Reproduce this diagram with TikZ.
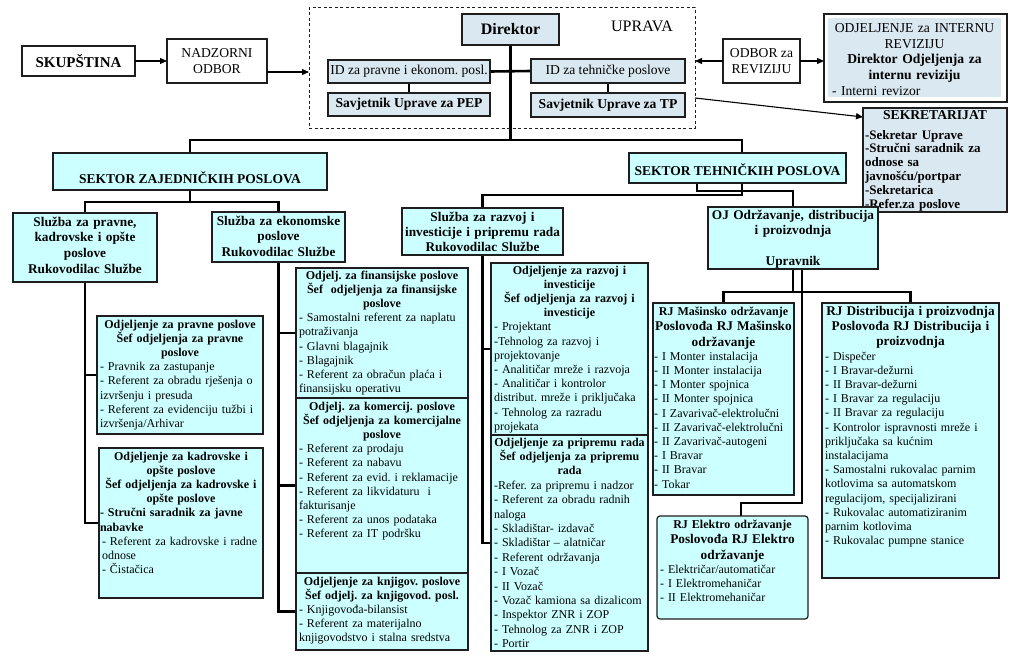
\documentclass[tikz,border=0pt]{standalone}
\usepackage{fontspec}
\setmainfont{Liberation Serif}
\usetikzlibrary{arrows.meta,backgrounds,calc}
\setlength{\parindent}{0pt}
\frenchspacing
\definecolor{cyanb}{RGB}{204,255,255}
\definecolor{lightb}{RGB}{218,232,241}
\definecolor{bline}{RGB}{30,30,30}

\newcommand\orgrect[6]{%
  \pgfmathsetmacro\orgW{#4-#2}\pgfmathsetmacro\orgH{#5-#3}%
  \node[#6, anchor=north west, minimum width=\orgW pt, minimum height=\orgH pt, inner sep=0pt, outer sep=0pt] (#1) at (#2,#3) {};}
\newcommand\orgbox[8]{%
  \orgrect{#1}{#2}{#3}{#4}{#5}{#6}%
  \pgfmathsetmacro\orgT{#4-#2-6}%
  \node[anchor=north, inner xsep=0pt, inner ysep=3.5pt, text width=\orgT pt, align=left, #7] (#1t) at (#1.north) {#8};}
\newcommand\orgsimple[7]{%
  \pgfmathsetmacro\orgW{#4-#2}\pgfmathsetmacro\orgH{#5-#3}%
  \node[#6, anchor=north west, minimum width=\orgW pt, minimum height=\orgH pt, inner sep=0pt, outer sep=0pt, align=center] (#1) at (#2,#3) {#7};}
\newcommand\orghd[1]{{\centering\bfseries #1\par}}

\tikzset{
  cbox/.style={draw=bline, fill=cyanb, line width=1.2pt},
  lbox/.style={draw=bline, fill=lightb, line width=1.2pt},
  wbox/.style={draw=bline, fill=white, line width=1.2pt},
  conn/.style={line width=2.6pt, line cap=rect},
  arr/.style={line width=1.1pt, -{Triangle[length=7pt,width=6pt]}},
  itm/.style={font=\fontsize{12}{14.2}\selectfont},
  hdr/.style={align=center, font=\fontsize{13.3}{15.7}\selectfont\bfseries},
  topf/.style={font=\fontsize{13.6}{15.5}\selectfont},
  topb/.style={font=\fontsize{13.6}{15.5}\selectfont\bfseries},
}

\begin{document}
\begin{tikzpicture}[x=1pt,y=-1pt]
\path[use as bounding box] (0,0) rectangle (1024,669);

% top row
\orgsimple{skup}{22}{46}{135}{76}{wbox, font=\fontsize{15}{17}\selectfont\bfseries}{SKUPŠTINA}
\orgsimple{nadz}{167}{39}{267}{83}{wbox, topf}{NADZORNI\\ODBOR}
\orgrect{upr}{309}{8}{695}{128}{draw=bline, line width=1pt, dash pattern=on 3pt off 2.5pt}
\node[font=\fontsize{16}{18}\selectfont] (uprl) at (642,26) {UPRAVA};
\orgsimple{dir}{462}{14}{559}{45}{lbox, font=\fontsize{16}{18}\selectfont\bfseries}{Direktor}
\orgsimple{idpep}{328}{60}{490}{83}{lbox, topf}{ID za pravne i ekonom. posl.}
\orgsimple{savpep}{328}{93}{490}{116}{lbox, topb}{Savjetnik Uprave za PEP}
\orgsimple{idtp}{531}{59}{685}{83}{lbox, topf}{ID za tehničke poslove}
\orgsimple{savtp}{531}{93}{685}{117}{lbox, topb}{Savjetnik Uprave za TP}
\orgsimple{odbor}{723}{39}{800}{83}{wbox, topf}{ODBOR za\\REVIZIJU}
\orgrect{intr}{824}{14}{1007}{102}{wbox}
\fill[lightb] (828,18) rectangle (1001,97);
\node[anchor=north, text width=171pt, inner sep=0pt, align=left, font=\fontsize{13.6}{15.8}\selectfont] (intrt) at (914.5,23) {{\centering ODJELJENJE za INTERNU\\ REVIZIJU\\ \textbf{Direktor Odjeljenja za}\\ \textbf{internu reviziju}\par}\hspace*{3pt}- Interni revizor};
\orgbox{sekr}{863}{108}{1007}{212}{lbox}{inner xsep=1pt, inner ysep=2pt, text width=140pt, font=\fontsize{13}{13.8}\selectfont\bfseries}{{\centering\fontsize{13.6}{16}\selectfont SEKRETARIJAT\par}\vspace{6pt}-Sekretar Uprave\\ -Stručni saradnik za\\ odnose sa\\ javnošću/portpar\\ -Sekretarica\\ -Refer.za poslove}

% sectors
\orgrect{szp}{53}{153}{327}{190}{cbox}
\node[font=\fontsize{13.5}{16}\selectfont\bfseries] (szpt) at ([yshift=-6pt]szp.center) {SEKTOR ZAJEDNIČKIH POSLOVA};
\orgrect{stp}{629}{153}{846}{183}{cbox}
\node[font=\fontsize{13.5}{16}\selectfont\bfseries] (stpt) at ([yshift=-2pt]stp.center) {SEKTOR TEHNIČKIH POSLOVA};

% sluzbe
\orgbox{slpr}{13}{213}{157}{282}{cbox}{hdr}{Služba za pravne,\\ kadrovske i opšte\\ poslove\\ Rukovodilac Službe}
\orgbox{slek}{212}{212}{345}{262}{cbox}{hdr}{Služba za ekonomske\\ poslove\\ Rukovodilac Službe}
\orgbox{slraz}{402}{208}{563}{255}{cbox}{hdr, font=\fontsize{13.3}{15}\selectfont\bfseries}{Služba za razvoj i\\ investicije i pripremu rada\\ Rukovodilac Službe}
\orgbox{oj}{708}{207}{878}{269}{cbox}{hdr, inner ysep=2.5pt, font=\fontsize{13.3}{15.5}\selectfont\bfseries}{OJ Održavanje, distribucija\\ i proizvodnja\\[15.5pt]Upravnik}

% odjeljenja - zajednicki
\orgbox{odpr}{97}{316}{263}{434}{cbox}{itm}{\orghd{Odjeljenje za pravne poslove\\ Šef odjeljenja za pravne\\ poslove}- Pravnik za zastupanje\\ - Referent za obradu rješenja o\\ izvršenju i presuda\\ - Referent za evidenciju tužbi i\\ izvršenja/Arhivar}
\orgbox{odkad}{99}{448}{263}{598}{cbox}{itm, text width=162pt}{\orghd{Odjeljenje za kadrovske i\\ opšte poslove\\ Šef odjeljenja za kadrovske i\\ opšte poslove}{\bfseries - Stručni saradnik za javne\\ nabavke\par}\hspace*{2pt}- Referent za kadrovske i radne\\ \hspace*{2pt}odnose\\ \hspace*{2pt}- Čistačica}
\orgbox{odfin}{296}{268}{468}{398}{cbox}{itm, inner ysep=2.5pt}{\orghd{Odjelj. za finansijske poslove\\ Šef~ odjeljenja za finansijske\\ poslove}- Samostalni referent za naplatu\\ potraživanja\\ - Glavni blagajnik\\ - Blagajnik\\ - Referent za obračun plaća i\\ finansijsku operativu}
\orgbox{odkom}{296}{398}{468}{573}{cbox}{itm}{\orghd{Odjelj. za komercij. poslove\\ Šef odjeljenja za komercijalne\\ poslove}- Referent za prodaju\\ - Referent za nabavu\\ - Referent za evid. i reklamacije\\ - Referent za likvidaturu~ i\\ fakturisanje\\ - Referent za unos podataka\\ - Referent za IT podršku}
\orgbox{odknj}{296}{573}{468}{650}{cbox}{itm}{\orghd{Odjeljenje za knjigov. poslove\\ Šef odjelj. za knjigovod. posl.}- Knjigovođa-bilansist\\ - Referent za materijalno\\ knjigovodstvo i stalna sredstva}

% odjeljenja - tehnicki
\orgbox{odraz}{491}{263}{648}{435}{cbox}{itm, inner ysep=2.5pt}{\orghd{Odjeljenje za razvoj i\\ investicije\\ Šef odjeljenja za razvoj i\\ investicije}- Projektant\\ -Tehnolog za razvoj i\\ projektovanje\\ - Analitičar mreže i razvoja\\ - Analitičar i kontrolor\\ distribut. mreže i priključaka\\ - Tehnolog za razradu\\ projekata}
\orgbox{odpri}{491}{435}{648}{651}{cbox}{itm, inner ysep=2.5pt, font=\fontsize{12}{14.4}\selectfont}{\orghd{Odjeljenje za pripremu rada\\ Šef odjeljenja za pripremu\\ rada}-Refer. za pripremu i nadzor\\ - Referent za obradu radnih\\ naloga\\ - Skladištar- izdavač\\ - Skladištar – alatničar\\ - Referent održavanja\\ - I Vozač\\ - II Vozač\\ - Vozač kamiona sa dizalicom\\ - Inspektor ZNR i ZOP\\ - Tehnolog za ZNR i ZOP\\ - Portir}
\orgbox{rjmas}{653}{303}{794}{495}{cbox}{itm, text width=139pt}{{\centering\bfseries\fontsize{12}{15.5}\selectfont RJ Mašinsko održavanje\\ {\fontsize{13.3}{15.5}\selectfont Poslovođa RJ Mašinsko\\ održavanje}\par}- I Monter instalacija\\ - II Monter instalacija\\ - I Monter spojnica\\ - II Monter spojnica\\ - I Zavarivač-elektrolučni\\ - II Zavarivač-elektrolučni\\ - II Zavarivač-autogeni\\ - I Bravar\\ - II Bravar\\ - Tokar}
\orgbox{rjdis}{822}{303}{999}{578}{cbox}{itm}{{\centering\bfseries\fontsize{13.3}{15}\selectfont RJ Distribucija i proizvodnja\\ Poslovođa RJ Distribucija i\\ proizvodnja\par}- Dispečer\\ - I Bravar-dežurni\\ - II Bravar-dežurni\\ - I Bravar za regulaciju\\ - II Bravar za regulaciju\\ - Kontrolor ispravnosti mreže i\\ priključaka sa kućnim\\ instalacijama\\ - Samostalni rukovalac parnim\\ kotlovima sa automatskom\\ regulacijom, specijalizirani\\ - Rukovalac automatiziranim\\ parnim kotlovima\\ - Rukovalac pumpne stanice}
\orgbox{rjel}{657}{516}{808}{619}{cbox, rounded corners=3pt}{itm}{{\centering\bfseries\fontsize{12}{15.5}\selectfont RJ Elektro održavanje\\ {\fontsize{13.3}{15.5}\selectfont Poslovođa RJ Elektro\\ održavanje}\par}- Električar/automatičar\\ - I Elektromehaničar\\ - II Elektromehaničar}

% arrows
\draw[arr] (skup.east) -- (nadz.west);
\path ([yshift=-11pt]nadz.east) coordinate (n1);
\draw[arr] (n1) -- (n1 -| upr.west);
\draw[arr] (odbor.west) -- (odbor.west -| upr.east);
\draw[arr] (odbor.east) -- (odbor.east -| intr.west);
\draw[arr] ([yshift=-30pt]upr.east) -- ([yshift=43pt]sekr.west);

% connectors
\begin{pgfonlayer}{background}
\fill[white] (0,0) rectangle (1024,669);
\coordinate (j1) at (510.5,140);
\draw[conn] (dir.south) -- (j1);
\draw[conn] (szp.north) |- (j1) -| ([xshift=4.5pt]stp.north);
\draw[conn] (idpep.east) -- (idtp.west);
\draw[conn] (idpep.south) -- (savpep.north);
\draw[conn] (idtp.south) -- (savtp.north);
\coordinate (j2) at (190,202);
\draw[conn] (szp.south) -- (j2);
\draw[conn] (slpr.north) |- (j2) -| (slek.north);
\draw[conn] (slpr.south) |- (odkad.west);
\draw[conn] (slpr.south |- odpr.west) -- (odpr.west);
\draw[conn] (slek.south) |- (odknj.west);
\draw[conn] (slek.south |- odfin.west) -- (odfin.west);
\draw[conn] (slek.south |- odkom.west) -- (odkom.west);
\draw[conn] ([xshift=4.5pt]stp.south) -- ++(0,12) -| (slraz.north);
\draw[conn] ([xshift=-40.5pt]stp.south) -- ++(0,8) -| (oj.north);
\draw[conn] (slraz.south) |- (odpri.west);
\draw[conn] (slraz.south |- odraz.west) -- (odraz.west);
\coordinate (j5) at (793,292);
\draw[conn] (oj.south) -- (j5);
\draw[conn] (rjmas.north) |- (j5) -| (rjdis.north);
\draw[conn] ([xshift=9pt]oj.south) -- ++(0,234) -| ([xshift=8.5pt]rjel.north);
\end{pgfonlayer}
\end{tikzpicture}
\end{document}
